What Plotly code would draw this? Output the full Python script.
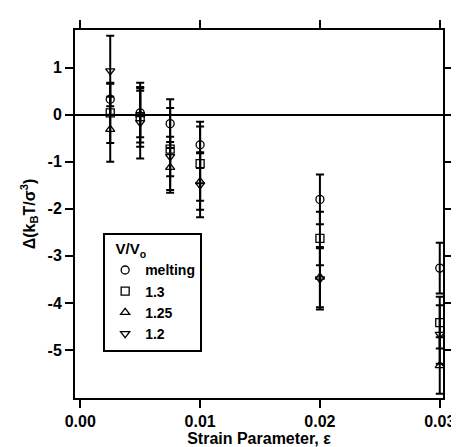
import plotly.graph_objects as go

# strain parameter values
strain = [0.0025, 0.005, 0.0075, 0.01, 0.02, 0.03]

# series: V/Vo
names = ["melting", "1.3", "1.25", "1.2"]
melting = [0.33, 0.04, -0.19, -0.64, -1.80, -3.26]
melting_err = [0.33, 0.52, 0.52, 0.49, 0.53, 0.54]
v13 = [0.04, -0.04, -0.73, -1.04, -2.63, -4.42]
v13_err = [0.64, 0.55, 0.87, 0.79, 0.57, 0.55]
v125 = [-0.31, 0.00, -1.12, -1.42, -3.45, -5.33]
v125_err = [0.69, 0.68, 0.54, 0.60, 0.64, 0.60]
v12 = [0.93, -0.17, -0.89, -1.49, -3.49, -4.67]
v12_err = [0.75, 0.76, 0.42, 0.69, 0.65, 0.62]

symbols = ["circle-open", "square-open", "triangle-up-open", "triangle-down-open"]
series = [melting, v13, v125, v12]
errors = [melting_err, v13_err, v125_err, v12_err]

x_ticks = [0.0, 0.01, 0.02, 0.03]
x_ticktext = ["0.00", "0.01", "0.02", "0.03"]
y_ticks = [1, 0, -1, -2, -3, -4, -5]
y_ticktext = ["1", "0", "-1", "-2", "-3", "-4", "-5"]

FONT = "Liberation Sans, Arial, Helvetica, sans-serif"

fig = go.Figure()
for name, sym, ys, es in zip(names, symbols, series, errors):
    fig.add_trace(go.Scatter(
        x=strain, y=ys, name=name, mode="markers",
        marker=dict(symbol=sym, size=8, color="black", line=dict(width=1.3, color="black")),
        error_y=dict(type="data", array=es, visible=True, color="black", thickness=2, width=4),
    ))

axis_common = dict(
    showline=True, linecolor="black", linewidth=2, mirror="ticks",
    ticks="outside", ticklen=8, tickwidth=2, tickcolor="black",
    showgrid=False,
    tickfont=dict(family=FONT, size=16, color="black", weight="bold"),
)

fig.update_layout(
    width=459, height=447,
    margin=dict(l=67, r=13, t=18, b=52),
    paper_bgcolor="white", plot_bgcolor="white",
    font=dict(family=FONT, size=16, color="black"),
    xaxis=dict(range=[-0.00044, 0.03027], tickvals=x_ticks, ticktext=x_ticktext,
               zeroline=False,
               title=dict(text="<b>Strain Parameter, ε</b>", standoff=2,
                          font=dict(family=FONT, size=16, color="black")),
               **axis_common),
    yaxis=dict(range=[-6.02, 1.8], tickvals=y_ticks, ticktext=y_ticktext,
               zeroline=True, zerolinecolor="black", zerolinewidth=1.5,
               title=dict(text="<b>Δ(k<sub>B</sub>T/σ<sup>3</sup>)</b>", standoff=8,
                          font=dict(family=FONT, size=16, color="black")),
               **axis_common),
    legend=dict(
        x=0.0765, y=0.4486, xanchor="left", yanchor="top",
        bgcolor="white", bordercolor="black", borderwidth=2,
        font=dict(family=FONT, size=14, color="black", weight="bold"),
        title=dict(text="<b>\u00a0\u00a0V/V<sub>o</sub></b>", side="top",
                   font=dict(family=FONT, size=15, color="black")),
        tracegroupgap=0,
    ),
    showlegend=True,
)

fig.write_html("out.html")
